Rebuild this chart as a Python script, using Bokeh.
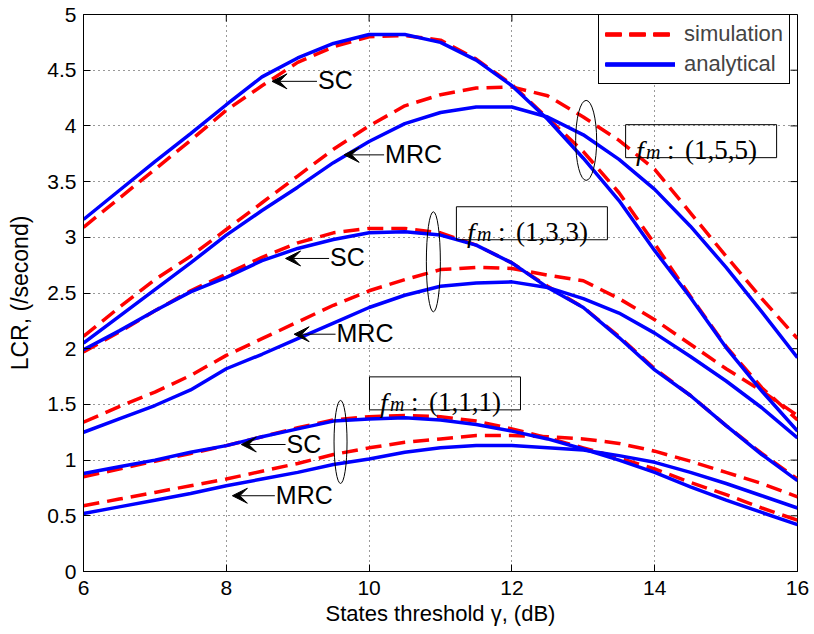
from math import pi
from bokeh.plotting import figure
from bokeh.models import Range1d, FixedTicker, Arrow, VeeHead
from bokeh.core.properties import value
from bokeh.embed import file_html
from bokeh.resources import INLINE

# ---------------- data ----------------
gamma_db = [6, 6.5, 7, 7.5, 8, 8.5, 9, 9.5, 10, 10.5, 11, 11.5, 12, 12.5, 13, 13.5, 14, 14.5, 15, 15.5, 16]

sc155_sim = [3.09, 3.35, 3.61, 3.87, 4.14, 4.36, 4.57, 4.71, 4.80, 4.81, 4.77, 4.60, 4.37, 4.07, 3.77, 3.40, 2.94, 2.47, 2.02, 1.65, 1.36]
sc155_ana = [3.16, 3.42, 3.68, 3.93, 4.19, 4.44, 4.61, 4.74, 4.82, 4.82, 4.75, 4.59, 4.36, 4.06, 3.71, 3.33, 2.88, 2.46, 2.01, 1.62, 1.26]
mrc155_sim = [2.11, 2.37, 2.62, 2.83, 3.07, 3.31, 3.55, 3.79, 4.00, 4.18, 4.28, 4.34, 4.35, 4.27, 4.08, 3.87, 3.61, 3.22, 2.83, 2.45, 2.09]
mrc155_ana = [2.05, 2.29, 2.53, 2.77, 3.02, 3.24, 3.45, 3.67, 3.86, 4.02, 4.12, 4.17, 4.17, 4.08, 3.92, 3.70, 3.43, 3.10, 2.73, 2.33, 1.92]
sc133_sim = [1.97, 2.15, 2.34, 2.52, 2.67, 2.82, 2.95, 3.04, 3.08, 3.08, 3.04, 2.93, 2.77, 2.56, 2.37, 2.11, 1.82, 1.58, 1.31, 1.06, 0.83]
sc133_ana = [1.99, 2.16, 2.34, 2.51, 2.64, 2.79, 2.90, 2.98, 3.04, 3.05, 3.02, 2.93, 2.77, 2.55, 2.37, 2.10, 1.81, 1.58, 1.31, 1.05, 0.815]
mrc133_sim = [1.34, 1.48, 1.61, 1.76, 1.94, 2.09, 2.24, 2.39, 2.52, 2.62, 2.71, 2.73, 2.72, 2.66, 2.61, 2.45, 2.26, 2.04, 1.82, 1.62, 1.40]
mrc133_ana = [1.25, 1.37, 1.49, 1.63, 1.82, 1.95, 2.09, 2.23, 2.37, 2.48, 2.56, 2.59, 2.60, 2.55, 2.45, 2.32, 2.14, 1.93, 1.71, 1.47, 1.20]
sc111_sim = [0.85, 0.92, 0.99, 1.06, 1.13, 1.21, 1.29, 1.36, 1.39, 1.40, 1.39, 1.35, 1.28, 1.20, 1.11, 1.02, 0.92, 0.80, 0.69, 0.57, 0.46]
sc111_ana = [0.88, 0.94, 1.00, 1.07, 1.13, 1.21, 1.28, 1.35, 1.37, 1.38, 1.36, 1.32, 1.26, 1.19, 1.10, 1.00, 0.89, 0.76, 0.64, 0.53, 0.42]
mrc111_sim = [0.59, 0.65, 0.71, 0.77, 0.83, 0.90, 0.97, 1.05, 1.11, 1.16, 1.19, 1.22, 1.22, 1.21, 1.19, 1.15, 1.08, 0.99, 0.89, 0.79, 0.67]
mrc111_ana = [0.52, 0.58, 0.64, 0.70, 0.77, 0.83, 0.89, 0.96, 1.01, 1.07, 1.11, 1.13, 1.13, 1.11, 1.09, 1.04, 0.98, 0.89, 0.79, 0.68, 0.57]

x_ticks = [6, 8, 10, 12, 14, 16]
x_tick_labels = ["6", "8", "10", "12", "14", "16"]
y_ticks = [0, 0.5, 1, 1.5, 2, 2.5, 3, 3.5, 4, 4.5, 5]
y_tick_labels = ["0", "0.5", "1", "1.5", "2", "2.5", "3", "3.5", "4", "4.5", "5"]

# annotations: arrows with labels
arrow_labels = ["SC", "MRC", "SC", "MRC", "SC", "MRC"]
arrow_tip_x = [8.64, 9.65, 8.83, 8.95, 8.21, 8.085]
arrow_tail_x = [9.27, 10.21, 9.44, 9.53, 8.83, 8.68]
arrow_y = [4.40, 3.74, 2.81, 2.13, 1.14, 0.68]

# ellipses grouping the curves
ell_x = [13.04, 10.90, 9.60]
ell_y = [3.87, 2.78, 1.163]
ell_w = [21, 14, 13]
ell_h = [80, 100, 83]

# f_m boxes
fm_labels = ["(1,5,5)", "(1,3,3)", "(1,1,1)"]
fm_x = [14.65, 12.28, 11.063]
fm_y = [3.863, 3.126, 1.599]

SANS = "Liberation Sans"
SERIF = "Liberation Serif"

p = figure(width=814, height=634, x_range=Range1d(6, 16), y_range=Range1d(0, 5),
           output_backend="svg", toolbar_location=None,
           min_border_left=83, min_border_right=17, min_border_top=14, min_border_bottom=63)
p.background_fill_color = "white"
p.border_fill_color = "white"
p.outline_line_color = "black"
p.outline_line_width = 1

# grid
for g, t in ((p.xgrid[0], x_ticks), (p.ygrid[0], y_ticks)):
    g.ticker = FixedTicker(ticks=t)
    g.grid_line_color = "black"
    g.grid_line_alpha = 0.8
    g.grid_line_dash = "1 4"
    g.grid_line_width = 1

xb = p.below[0]
yl = p.left[0]
xb.ticker = FixedTicker(ticks=x_ticks)
yl.ticker = FixedTicker(ticks=y_ticks)
xb.major_label_overrides = dict(zip(x_ticks, x_tick_labels))
yl.major_label_overrides = dict(zip(y_ticks, y_tick_labels))
xb.axis_label = "States threshold γ, (dB)"
yl.axis_label = "LCR, (/second)"

for ax in (xb, yl):
    ax.major_tick_in = 7
    ax.major_tick_out = 0
    ax.minor_tick_line_color = None
    ax.axis_line_color = "black"
    ax.major_tick_line_color = "black"
    ax.major_label_text_font = SANS
    ax.major_label_text_color = "black"
    ax.major_label_text_font_size = "21px"
    ax.axis_label_text_font = SANS
    ax.axis_label_text_font_style = "normal"
    ax.axis_label_text_color = "black"
xb.axis_label_text_font_size = "22px"
yl.axis_label_text_font_size = "23px"
xb.major_label_standoff = 9
yl.major_label_standoff = 7
xb.axis_label_standoff = 3
yl.axis_label_standoff = 11

# inward ticks on the top and right edges of the box
p.ray(x=x_ticks, y=[y_ticks[-1]] * len(x_ticks), length=7, length_units="screen",
      angle=-pi / 2, line_color="black", line_width=1)
p.ray(x=[x_ticks[-1]] * len(y_ticks), y=y_ticks, length=7, length_units="screen",
      angle=pi, line_color="black", line_width=1)

# curves
sims = [sc155_sim, mrc155_sim, sc133_sim, mrc133_sim, sc111_sim, mrc111_sim]
anas = [sc155_ana, mrc155_ana, sc133_ana, mrc133_ana, sc111_ana, mrc111_ana]
for s in sims:
    p.line(gamma_db, s, line_color="#FF0000", line_width=3.5, line_dash="16 8",
           legend_label="simulation")
for a in anas:
    p.line(gamma_db, a, line_color="#0000FF", line_width=3.5, legend_label="analytical")

# arrows and labels
for tx, hx, yy in zip(arrow_tail_x, arrow_tip_x, arrow_y):
    p.add_layout(Arrow(end=VeeHead(size=15, fill_color="black", line_color="black", line_width=1),
                       x_start=tx, y_start=yy, x_end=hx, y_end=yy,
                       line_color="black", line_width=1))
p.text(x=arrow_tail_x, y=arrow_y, text=arrow_labels, text_font=value(SANS),
       text_font_size="25px", text_baseline="middle", text_align="left",
       text_color="black", x_offset=1, y_offset=-1)

# ellipses
p.ellipse(x=ell_x, y=ell_y, width=ell_w, height=ell_h, width_units="screen",
          height_units="screen", fill_color=None, line_color="black", line_width=1)

# f_m boxes
p.rect(x=fm_x, y=fm_y, width=151, height=33, width_units="screen", height_units="screen",
       fill_color=None, line_color="black", line_width=1)
n = len(fm_x)
p.text(x=fm_x, y=fm_y, text=["f"] * n, text_font=value(SERIF), text_font_style="italic",
       text_font_size="28px", text_baseline="alphabetic", text_align="left",
       text_color="black", x_offset=-65, y_offset=9)
p.text(x=fm_x, y=fm_y, text=["m"] * n, text_font=value(SERIF), text_font_style="italic",
       text_font_size="20px", text_baseline="alphabetic", text_align="left",
       text_color="black", x_offset=-55, y_offset=11)
p.text(x=fm_x, y=fm_y, text=[":"] * n, text_font=value(SERIF),
       text_font_size="27px", text_baseline="alphabetic", text_align="left",
       text_color="black", x_offset=-34, y_offset=9)
p.text(x=fm_x, y=fm_y, text=fm_labels, text_font=value(SERIF),
       text_font_size="27px", text_baseline="alphabetic", text_align="left",
       text_color="black", x_offset=-16, y_offset=9)

# legend
lg = p.legend[0]
lg.location = (515, 487)
lg.border_line_color = "black"
lg.border_line_width = 1
lg.border_line_alpha = 1
lg.background_fill_color = "white"
lg.background_fill_alpha = 1
lg.label_text_font = SANS
lg.label_text_font_size = "22px"
lg.glyph_width = 70
lg.glyph_height = 20
lg.label_height = 20
lg.label_standoff = 9
lg.spacing = 4
lg.padding = 6
lg.margin = 0

open("out.html", "w").write(file_html(p, INLINE))
